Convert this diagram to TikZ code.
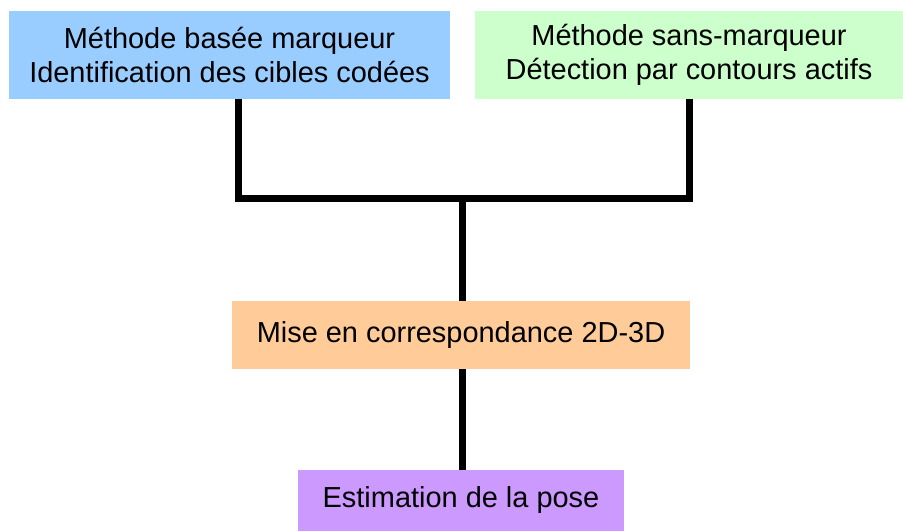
\documentclass[tikz,border=0pt]{standalone}
\usepackage{fontspec}
\setmainfont{Liberation Sans}
\usetikzlibrary{positioning}

\definecolor{boxblue}{HTML}{99CCFF}
\definecolor{boxgreen}{HTML}{CCFFCC}
\definecolor{boxorange}{HTML}{FFCC99}
\definecolor{boxpurple}{HTML}{CC99FF}

\begin{document}
\begin{tikzpicture}[x=0.75pt,y=-0.75pt]
% Define node styles
\tikzstyle{stage} = [rectangle, inner sep=0pt, align=center, font=\fontsize{21.7}{25}\selectfont]
\tikzstyle{link} = [line width=5.25pt, line join=miter]

\useasboundingbox (0,0) rectangle (903,531);

% Draw nodes
\node[stage, fill=boxblue, minimum width=441*0.75pt, minimum height=88*0.75pt] (marker) at (229.5,55) {Méthode basée marqueur\\Identification des cibles codées};
\node[stage, fill=boxgreen, minimum width=428*0.75pt, minimum height=88*0.75pt] (markerless) at (689,55) {Méthode sans-marqueur\\Détection par contours actifs};
\node[stage, fill=boxorange, minimum width=458*0.75pt, minimum height=68*0.75pt] (matching) at (461,335) {Mise en correspondance 2D-3D};
\node[stage, fill=boxpurple, minimum width=326*0.75pt, minimum height=61*0.75pt] (pose) at (461,500.5) {Estimation de la pose};
\coordinate (join) at (462.5,199);

% Draw edges
\draw[link] ([xshift=9*0.75pt]marker.south) |- (join) -| (markerless.south);
\draw[link] (join) -- (join |- matching.north);
\draw[link] (join |- matching.south) -- (join |- pose.north);
\end{tikzpicture}
\end{document}
